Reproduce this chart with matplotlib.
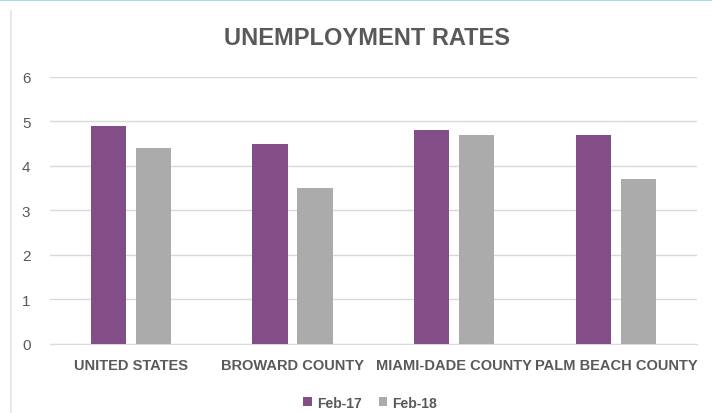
import matplotlib.pyplot as plt
import numpy as np
from matplotlib.lines import Line2D
from matplotlib import font_manager

categories = ['UNITED STATES', 'BROWARD COUNTY', 'MIAMI-DADE COUNTY', 'PALM BEACH COUNTY']
feb17 = [4.9, 4.5, 4.8, 4.7]
feb18 = [4.4, 3.5, 4.7, 3.7]

purple = '#834E87'
gray = '#ABABAB'
text_color = '#595959'

names = sorted({f.name + '|' + f.stretch if isinstance(f.stretch, str) else f.name + '|' + str(f.stretch)
                for f in font_manager.fontManager.ttflist})
condensed = [n for n in names if 'ondens' in n.lower() or 'narrow' in n.lower()]
print(condensed)

plt.rcParams['font.family'] = ['Liberation Sans', 'DejaVu Sans']

fig = plt.figure(figsize=(7.12, 4.14), dpi=100)
ax = fig.add_axes([0.070, 0.1667, 0.909, 0.645])

x = np.arange(len(categories))
w = 0.217
ax.bar(x - 0.139, feb17, w, color=purple, label='Feb-17', zorder=3)
ax.bar(x + 0.139, feb18, w, color=gray, label='Feb-18', zorder=3)

ax.set_xlim(-0.5, 3.5)
ax.set_ylim(0, 6)
ax.set_yticks(range(7))
ax.yaxis.grid(True, color='#D9D9D9', linewidth=1, zorder=0)
ax.set_xticks(x)
ax.set_xticklabels(categories, fontsize=10.5, fontweight='bold', color=text_color)
ax.tick_params(axis='y', labelsize=11, colors=text_color, length=0, pad=14)
ax.tick_params(axis='x', length=0, pad=10)
for s in ['top', 'right', 'left']:
    ax.spines[s].set_visible(False)
ax.spines['bottom'].set_color('#D9D9D9')

fig.text(0.515, 0.908, 'UNEMPLOYMENT RATES', ha='center', va='center',
         fontsize=17, fontweight='bold', color=text_color)

leg = fig.legend(loc='center', bbox_to_anchor=(0.52, 0.025), ncol=2, frameon=False,
                 fontsize=10, handlelength=0.6, handleheight=0.6, columnspacing=1.2,
                 handletextpad=0.4)
for t in leg.get_texts():
    t.set_color(text_color)
    t.set_fontweight('bold')

fig.add_artist(Line2D([0, 1], [0.998, 0.998], color='#ADD8E6', linewidth=1.5))
fig.add_artist(Line2D([0.0155, 0.0155], [0, 0.97], color='#E3E3E3', linewidth=1.2))

fig.savefig('out.png', dpi=100)
